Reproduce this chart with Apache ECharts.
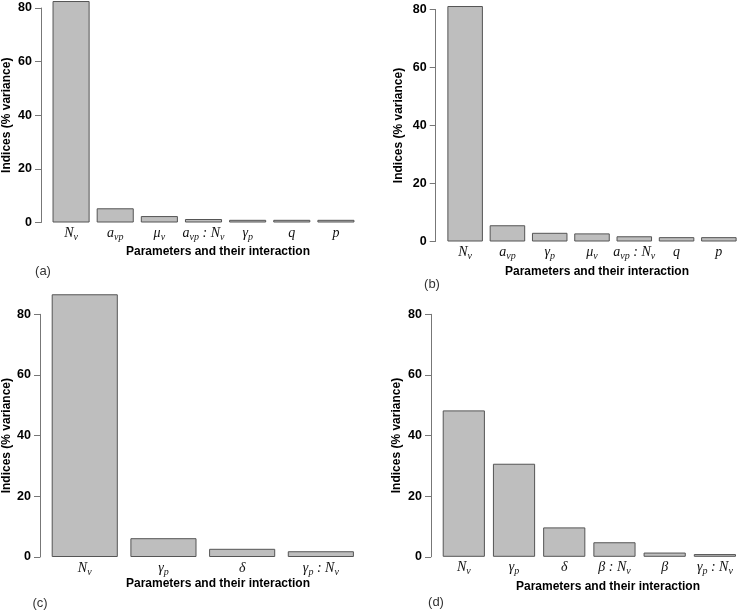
<!DOCTYPE html>
<html>
<head>
<meta charset="utf-8">
<script src="https://cdn.jsdelivr.net/npm/echarts@6/dist/echarts.min.js"></script>
<style>html,body{margin:0;padding:0;background:#fff;}#c{width:740px;height:610px;}</style>
</head>
<body>
<div id="c"></div>
<script>
// Data
const catsA = ['N_v', 'a_vp', 'μ_v', 'a_vp : N_v', 'γ_p', 'q', 'p'];
const valsA = [82.6, 5.3, 2.4, 1.3, 1.0, 1.0, 1.0];
const catsB = ['N_v', 'a_vp', 'γ_p', 'μ_v', 'a_vp : N_v', 'q', 'p'];
const valsB = [81.2, 5.6, 3.0, 2.8, 1.8, 1.5, 1.5];
const catsC = ['N_v', 'γ_p', 'δ', 'γ_p : N_v'];
const valsC = [86.6, 6.2, 2.7, 1.9];
const catsD = ['N_v', 'γ_p', 'δ', 'β : N_v', 'β', 'γ_p : N_v'];
const valsD = [48.3, 30.7, 9.7, 4.8, 1.4, 0.9];
const yMin = 0, yMax = 80, yStep = 20;
const yTitle = 'Indices (% variance)';
const xTitle = 'Parameters and their interaction';
const tags = ['(a)', '(b)', '(c)', '(d)'];

function fmt(v) {
  return v.split(' : ').map(function (part) {
    const p = part.split('_');
    return '{m|' + p[0] + '}' + (p[1] ? '{s|' + p[1] + '}' : '');
  }).join('{m| : }');
}
const rich = {
  m: {fontFamily: 'Liberation Serif', fontStyle: 'italic', fontSize: 14, color: '#111', lineHeight: 16, verticalAlign: 'top'},
  s: {fontFamily: 'Liberation Serif', fontStyle: 'italic', fontSize: 10, color: '#111', lineHeight: 10, verticalAlign: 'bottom', padding: [8, 0, 0, 0]}
};

const panels = [
  {cats: catsA, vals: valsA, grid: {left: 48, top: 8, width: 310, height: 214.5}, off: 8, gap: 28, xt: [218, 252], tag: [43, 271]},
  {cats: catsB, vals: valsB, grid: {left: 444, top: 9.5, width: 298, height: 232}, off: 8.3, gap: 31, xt: [597, 272], tag: [432, 284]},
  {cats: catsC, vals: valsC, grid: {left: 45.4, top: 314.3, width: 314.8, height: 242.7}, off: 5.4, gap: 27, xt: [218, 584], tag: [40, 603]},
  {cats: catsD, vals: valsD, grid: {left: 438.7, top: 314.3, width: 306.6, height: 242.5}, off: 7.7, gap: 28, xt: [608, 587], tag: [436, 602]}
];

const option = {
  animation: false,
  grid: [], xAxis: [], yAxis: [], series: [], graphic: []
};
panels.forEach(function (p, i) {
  option.grid.push(Object.assign({containLabel: false}, p.grid));
  option.xAxis.push({
    type: 'category', gridIndex: i, data: p.cats,
    axisLine: {show: false}, axisTick: {show: false},
    axisLabel: {interval: 0, margin: 4, formatter: fmt, rich: rich}
  });
  option.yAxis.push({
    type: 'value', gridIndex: i, min: yMin, max: yMax, interval: yStep, offset: p.off,
    splitLine: {show: false},
    axisLine: {show: true, lineStyle: {color: '#777', width: 1}},
    axisTick: {show: true, length: 6, lineStyle: {color: '#777', width: 1}},
    axisLabel: {color: '#000', fontWeight: 'bold', fontSize: 12.5, fontFamily: 'Liberation Sans', margin: 9},
    name: yTitle, nameLocation: 'middle', nameRotate: 90, nameGap: p.gap,
    nameTextStyle: {color: '#000', fontWeight: 'bold', fontSize: 12, fontFamily: 'Liberation Sans'}
  });
  option.series.push({
    type: 'bar', xAxisIndex: i, yAxisIndex: i, data: p.vals, clip: false,
    barCategoryGap: '16%',
    itemStyle: {color: '#bebebe', borderColor: '#555', borderWidth: 1}
  });
  option.graphic.push({
    type: 'text', x: p.xt[0], y: p.xt[1],
    style: {text: xTitle, fontSize: 12, fontWeight: 'bold', fontFamily: 'Liberation Sans', align: 'center', verticalAlign: 'middle', fill: '#000'}
  });
  option.graphic.push({
    type: 'text', x: p.tag[0], y: p.tag[1],
    style: {text: tags[i], fontSize: 13, fontFamily: 'Liberation Sans', align: 'center', verticalAlign: 'middle', fill: '#333'}
  });
});

const chart = echarts.init(document.getElementById('c'), null, {renderer: 'canvas'});
chart.setOption(option);
</script>
</body>
</html>
